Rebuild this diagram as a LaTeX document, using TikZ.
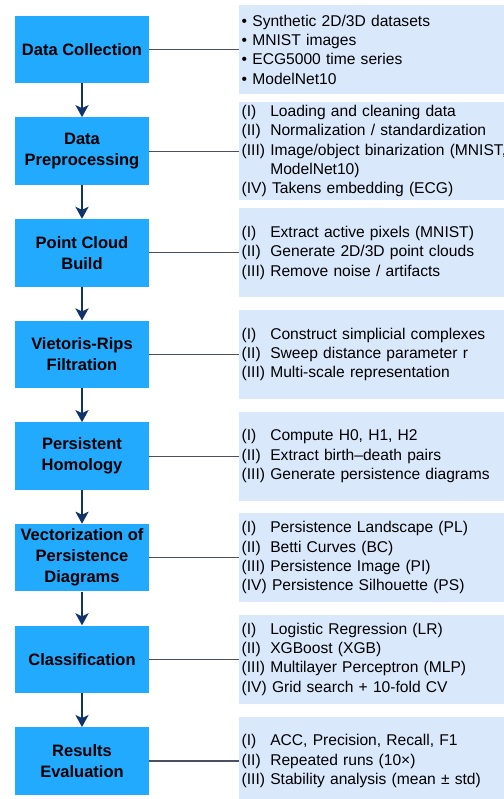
\documentclass[tikz,border=0pt]{standalone}
\usepackage{fontspec}
\setmainfont{Liberation Sans}
\usetikzlibrary{arrows.meta}
\definecolor{stagefill}{HTML}{22AAFF}
\definecolor{panelfill}{HTML}{DAE8FC}
\definecolor{flownavy}{HTML}{10336B}
\definecolor{linkgray}{HTML}{4A5060}
\newcommand\rn[1]{\leavevmode\rlap{(#1)}\hphantom{(III)\ }}
\begin{document}
\begin{tikzpicture}[x=1pt,y=-1pt,
stage/.style={fill=stagefill,minimum width=134pt,minimum height=67.5pt,inner sep=0pt,align=center,font=\fontsize{16.5}{21}\selectfont\bfseries},
panel/.style={fill=panelfill,anchor=west,minimum height=89pt,text width=300pt,inner xsep=2.5pt,align=left,font=\fontsize{15.6}{19.3}\selectfont},
flow/.style={draw=flownavy,line width=2.6pt,-{Stealth[length=12pt,width=13pt,inset=3pt]}},
link/.style={draw=linkgray,line width=1.1pt}]
\useasboundingbox(0,0)rectangle(503,799);
% stages
\node[stage](s1)at(82,49.5){Data Collection};
\node[stage](s2)at(82,151.1){Data\\Preprocessing};
\node[stage](s3)at(82,252.8){Point Cloud\\Build};
\node[stage](s4)at(82,354.4){Vietoris-Rips\\Filtration};
\node[stage](s5)at(82,456.1){Persistent\\Homology};
\node[stage](s6)at(82,557.7){Vectorization of\\Persistence\\Diagrams};
\node[stage](s7)at(82,659.3){Classification};
\node[stage](s8)at(82,761){Results\\Evaluation};
% details
\node[panel](d1)at(239,49.5){\textbullet\ Synthetic 2D/3D datasets\\\textbullet\ MNIST images\\\textbullet\ ECG5000 time series\\\textbullet\ ModelNet10};
\node[panel](d2)at(239,151.1){\rn{I}Loading and cleaning data\\\rn{II}Normalization / standardization\\(III) Image/object binarization (MNIST,\\\leavevmode\hphantom{(III)\ }ModelNet10)\\(IV) Takens embedding (ECG)};
\node[panel](d3)at(239,252.8){\rn{I}Extract active pixels (MNIST)\\\rn{II}Generate 2D/3D point clouds\\(III) Remove noise / artifacts};
\node[panel](d4)at(239,354.4){\rn{I}Construct simplicial complexes\\\rn{II}Sweep distance parameter r\\(III) Multi-scale representation};
\node[panel](d5)at(239,456.1){\rn{I}Compute H0, H1, H2\\\rn{II}Extract birth–death pairs\\(III) Generate persistence diagrams};
\node[panel](d6)at(239,557.7){\rn{I}Persistence Landscape (PL)\\\rn{II}Betti Curves (BC)\\(III) Persistence Image (PI)\\(IV) Persistence Silhouette (PS)};
\node[panel](d7)at(239,659.3){\rn{I}Logistic Regression (LR)\\\rn{II}XGBoost (XGB)\\(III) Multilayer Perceptron (MLP)\\(IV) Grid search + 10-fold CV};
\node[panel](d8)at(239,761){\rn{I}ACC, Precision, Recall, F1\\\rn{II}Repeated runs (10×)\\(III) Stability analysis (mean ± std)};
% connectors
\draw[link](s1)--(d1);\draw[link](s2)--(d2);\draw[link](s3)--(d3);\draw[link](s4)--(d4);
\draw[link](s5)--(d5);\draw[link](s6)--(d6);\draw[link](s7)--(d7);\draw[link](s8)--(d8);
\draw[flow](s1)--(s2);\draw[flow](s2)--(s3);\draw[flow](s3)--(s4);\draw[flow](s4)--(s5);
\draw[flow](s5)--(s6);\draw[flow](s6)--(s7);\draw[flow](s7)--(s8);
\end{tikzpicture}
\end{document}
